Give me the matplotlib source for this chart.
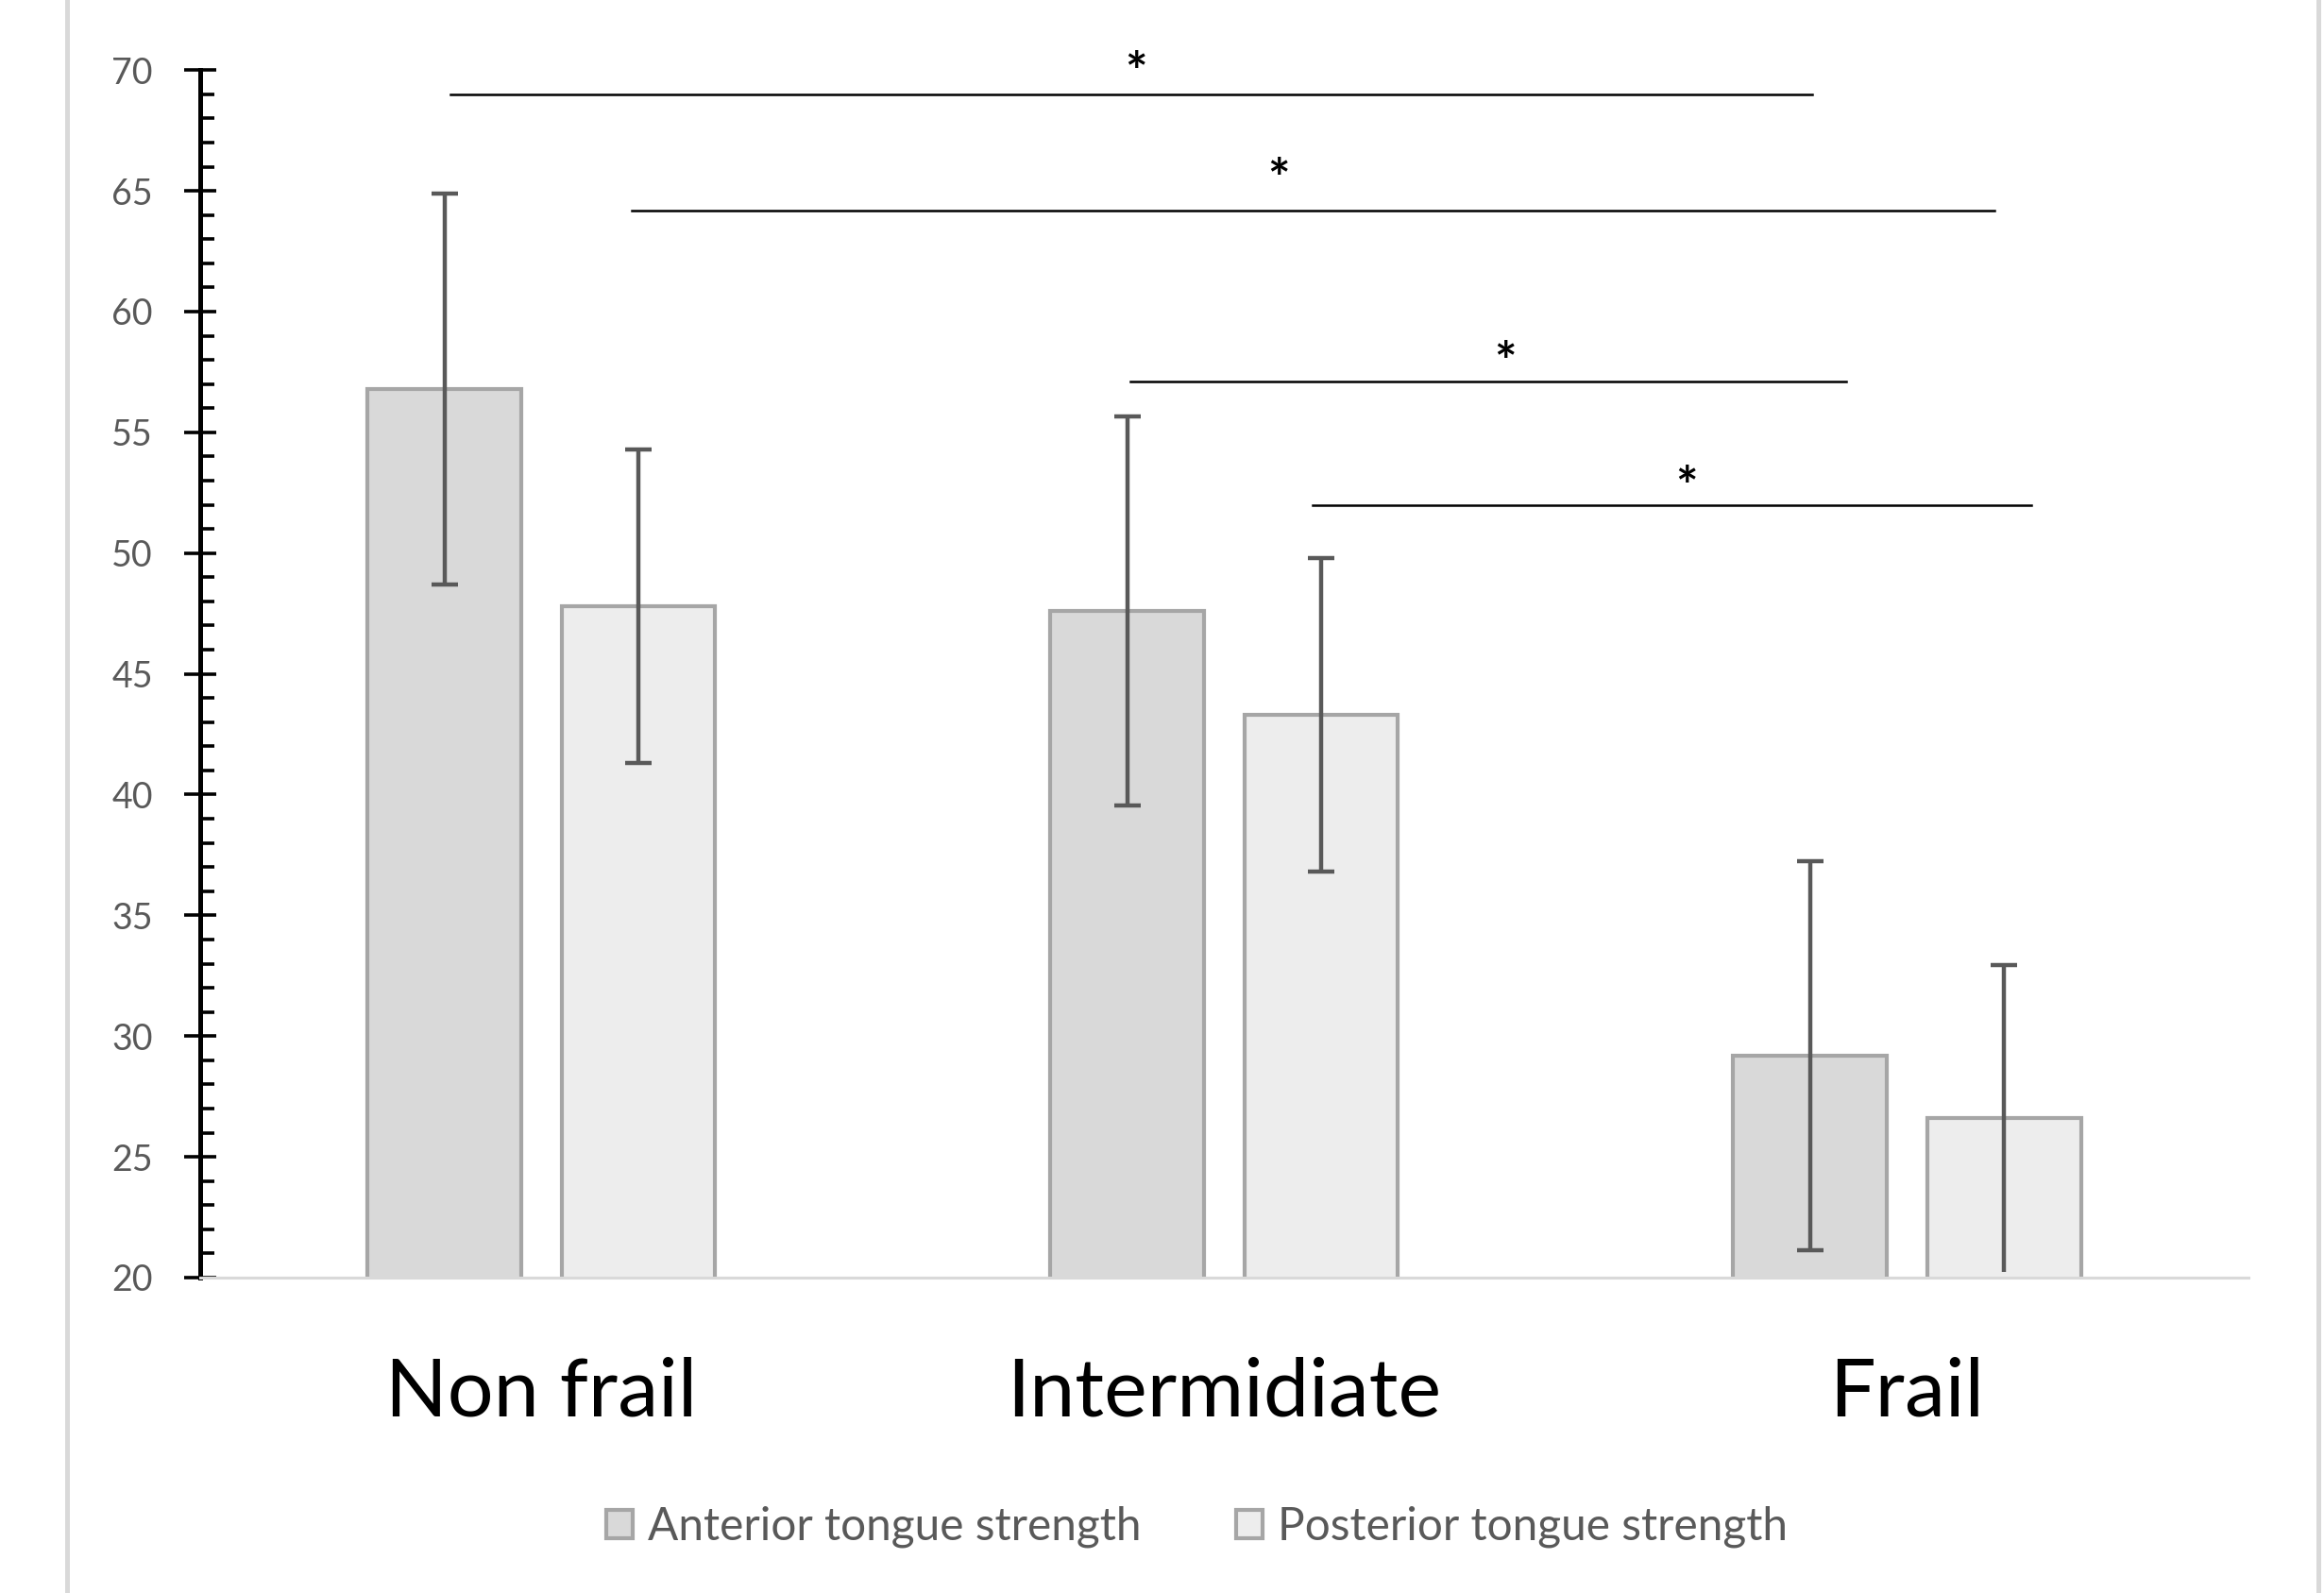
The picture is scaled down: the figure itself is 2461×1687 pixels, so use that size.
import matplotlib
matplotlib.use("Agg")
import matplotlib.pyplot as plt
import numpy as np
from matplotlib.patches import Patch, Rectangle
from matplotlib.ticker import MultipleLocator

categories = ["Non frail", "Intermidiate", "Frail"]
series_labels = ["Anterior tongue strength", "Posterior tongue strength"]
anterior_mean = [56.8, 47.6, 29.2]
anterior_sd = [8.1, 8.05, 8.05]
posterior_mean = [47.8, 43.3, 26.6]
posterior_sd = [6.5, 6.5, 6.35]

# significance brackets (data coords)
sig_x_start = [-0.134, 0.132, 0.863, 1.130]
sig_x_end = [1.861, 2.128, 1.911, 2.182]
sig_y = [69.0, 64.2, 57.1, 52.0]
sig_star_x = [0.870, 1.080, 1.412, 1.677]
sig_star_y = [69.8, 65.4, 57.8, 52.65]

plt.rcParams["font.family"] = ["Lato", "DejaVu Sans"]

fig = plt.figure(figsize=(12.305, 8.435), dpi=200)
ax = fig.add_axes([0.0861, 0.198, 0.8814, 0.758])

x = np.arange(len(categories))
off = 0.142
width = 0.225
edge = "#A6A6A6"
ecol = "#595959"

ax.bar(x - off, anterior_mean, width, color="#D9D9D9", edgecolor=edge, linewidth=1.5, zorder=2)
ax.bar(x + off, posterior_mean, width, color="#EDEDED", edgecolor=edge, linewidth=1.5, zorder=2)

ax.errorbar(x - off, anterior_mean, yerr=anterior_sd, fmt="none", ecolor=ecol,
            elinewidth=1.6, capsize=5, capthick=1.6, zorder=3)
_, caps, _ = ax.errorbar(x + off, posterior_mean, yerr=posterior_sd, fmt="none", ecolor=ecol,
                         elinewidth=1.6, capsize=5, capthick=1.6, zorder=3)
caps[0].set_markevery([0, 1])  # lower cap missing on the frail bar

for xs, xe, y, sx, sy in zip(sig_x_start, sig_x_end, sig_y, sig_star_x, sig_star_y):
    ax.plot([xs, xe], [y, y], color="black", linewidth=0.9, clip_on=False, zorder=4)
    ax.text(sx, sy, "*", ha="center", va="center", fontsize=20, fontweight="bold",
            color="black", clip_on=False)

ax.set_xlim(-0.5, 2.5)
ax.set_ylim(20, 70)
ax.yaxis.set_major_locator(MultipleLocator(5))
ax.yaxis.set_minor_locator(MultipleLocator(1))

ax.set_xticks(x)
ax.set_xticklabels(categories, fontsize=31, color="black")
ax.tick_params(axis="x", length=0, pad=30)
ax.tick_params(axis="y", which="major", direction="inout", length=12, width=1.3,
               color="black", labelcolor="#595959", labelsize=13.5, pad=12)
ax.tick_params(axis="y", which="minor", direction="in", length=5.5, width=1.3, color="black")

ax.spines["top"].set_visible(False)
ax.spines["right"].set_visible(False)
ax.spines["left"].set_color("black")
ax.spines["left"].set_linewidth(1.8)
ax.spines["bottom"].set_color("#D9D9D9")
ax.spines["bottom"].set_linewidth(1.1)

handles = [Patch(facecolor="#D9D9D9", edgecolor=edge, linewidth=1.5),
           Patch(facecolor="#EDEDED", edgecolor=edge, linewidth=1.5)]
fig.legend(handles, series_labels, loc="center", bbox_to_anchor=(0.515, 0.0415), ncol=2,
           frameon=False, fontsize=17.2, labelcolor="#595959", handlelength=0.6,
           handleheight=0.6, handletextpad=0.33, columnspacing=2.1)

# chart area border
fig.add_artist(Rectangle((0.0287, -0.05), 0.969, 1.1, transform=fig.transFigure,
                         fill=False, edgecolor="#D9D9D9", linewidth=1.8))

fig.savefig("out.png", dpi=200, facecolor="white")
